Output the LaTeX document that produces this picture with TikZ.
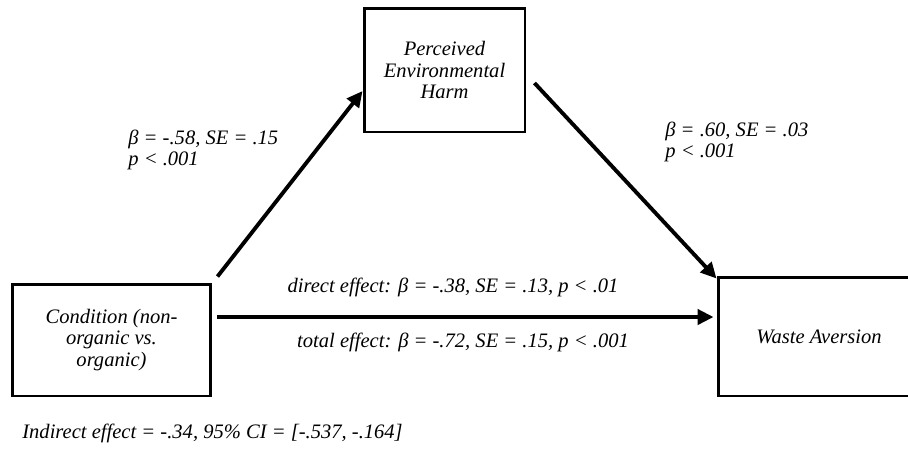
\documentclass[tikz,border=0pt]{standalone}
\usepackage{fontspec}
\setmainfont{Liberation Serif}
\usetikzlibrary{arrows.meta}

\tikzset{
  varbox/.style={draw,line width=1.7pt,rectangle,align=center,inner sep=0pt},
  path arrow/.style={line width=2.2pt,-{Triangle[length=9pt,width=8.5pt]}},
  coef/.style={align=left,inner sep=0pt},
}

\begin{document}
\begin{tikzpicture}[x=0.02cm,y=-0.02cm,font=\fontsize{11.7}{12.2}\selectfont\itshape]
      \useasboundingbox (0,0) rectangle (908,451);
      \clip (0,0) rectangle (908,451);

      \node[varbox,minimum width=3.98cm,minimum height=2.24cm] (cond) at (111.5,340)
        {Condition (non-\\organic vs.\\organic)};
      \node[varbox,minimum width=3.22cm,minimum height=2.48cm] (harm) at (444.5,70)
        {Perceived\\Environmental\\Harm};
      \node[varbox,minimum width=4.04cm,minimum height=2.38cm] (waste) at (819,336.5)
        {Waste Aversion};

      \coordinate (dstart) at ([xshift=0.1cm,yshift=0.46cm]cond.east);

      \draw[path arrow] ([shift={(0.1cm,0.12cm)}]cond.north east) -- ([yshift=-0.42cm]harm.west);
      \draw[path arrow] ([shift={(0.16cm,-0.26cm)}]harm.east) -- ([yshift=-0.06cm]waste.north west);
      \draw[path arrow] (dstart) -- ([xshift=-0.06cm]dstart -| waste.west);

      \node[coef,anchor=west] (acoef) at (128,150) {β = -.58, \textit{SE} = .15\\p < .001};
      \node[coef,anchor=west] (bcoef) at (665,142) {β = .60, \textit{SE} = .03\\p < .001};
      \node[coef] (direct) at (453,287) {direct effect: β = -.38, SE = .13, p < .01};
      \node[coef] (total) at (463,342) {total effect: β = -.72, SE = .15, p < .001};
      \node[coef,anchor=west] (indirect) at (22,433) {Indirect effect = -.34, 95\% CI = [-.537, -.164]};
    \end{tikzpicture}
\end{document}
